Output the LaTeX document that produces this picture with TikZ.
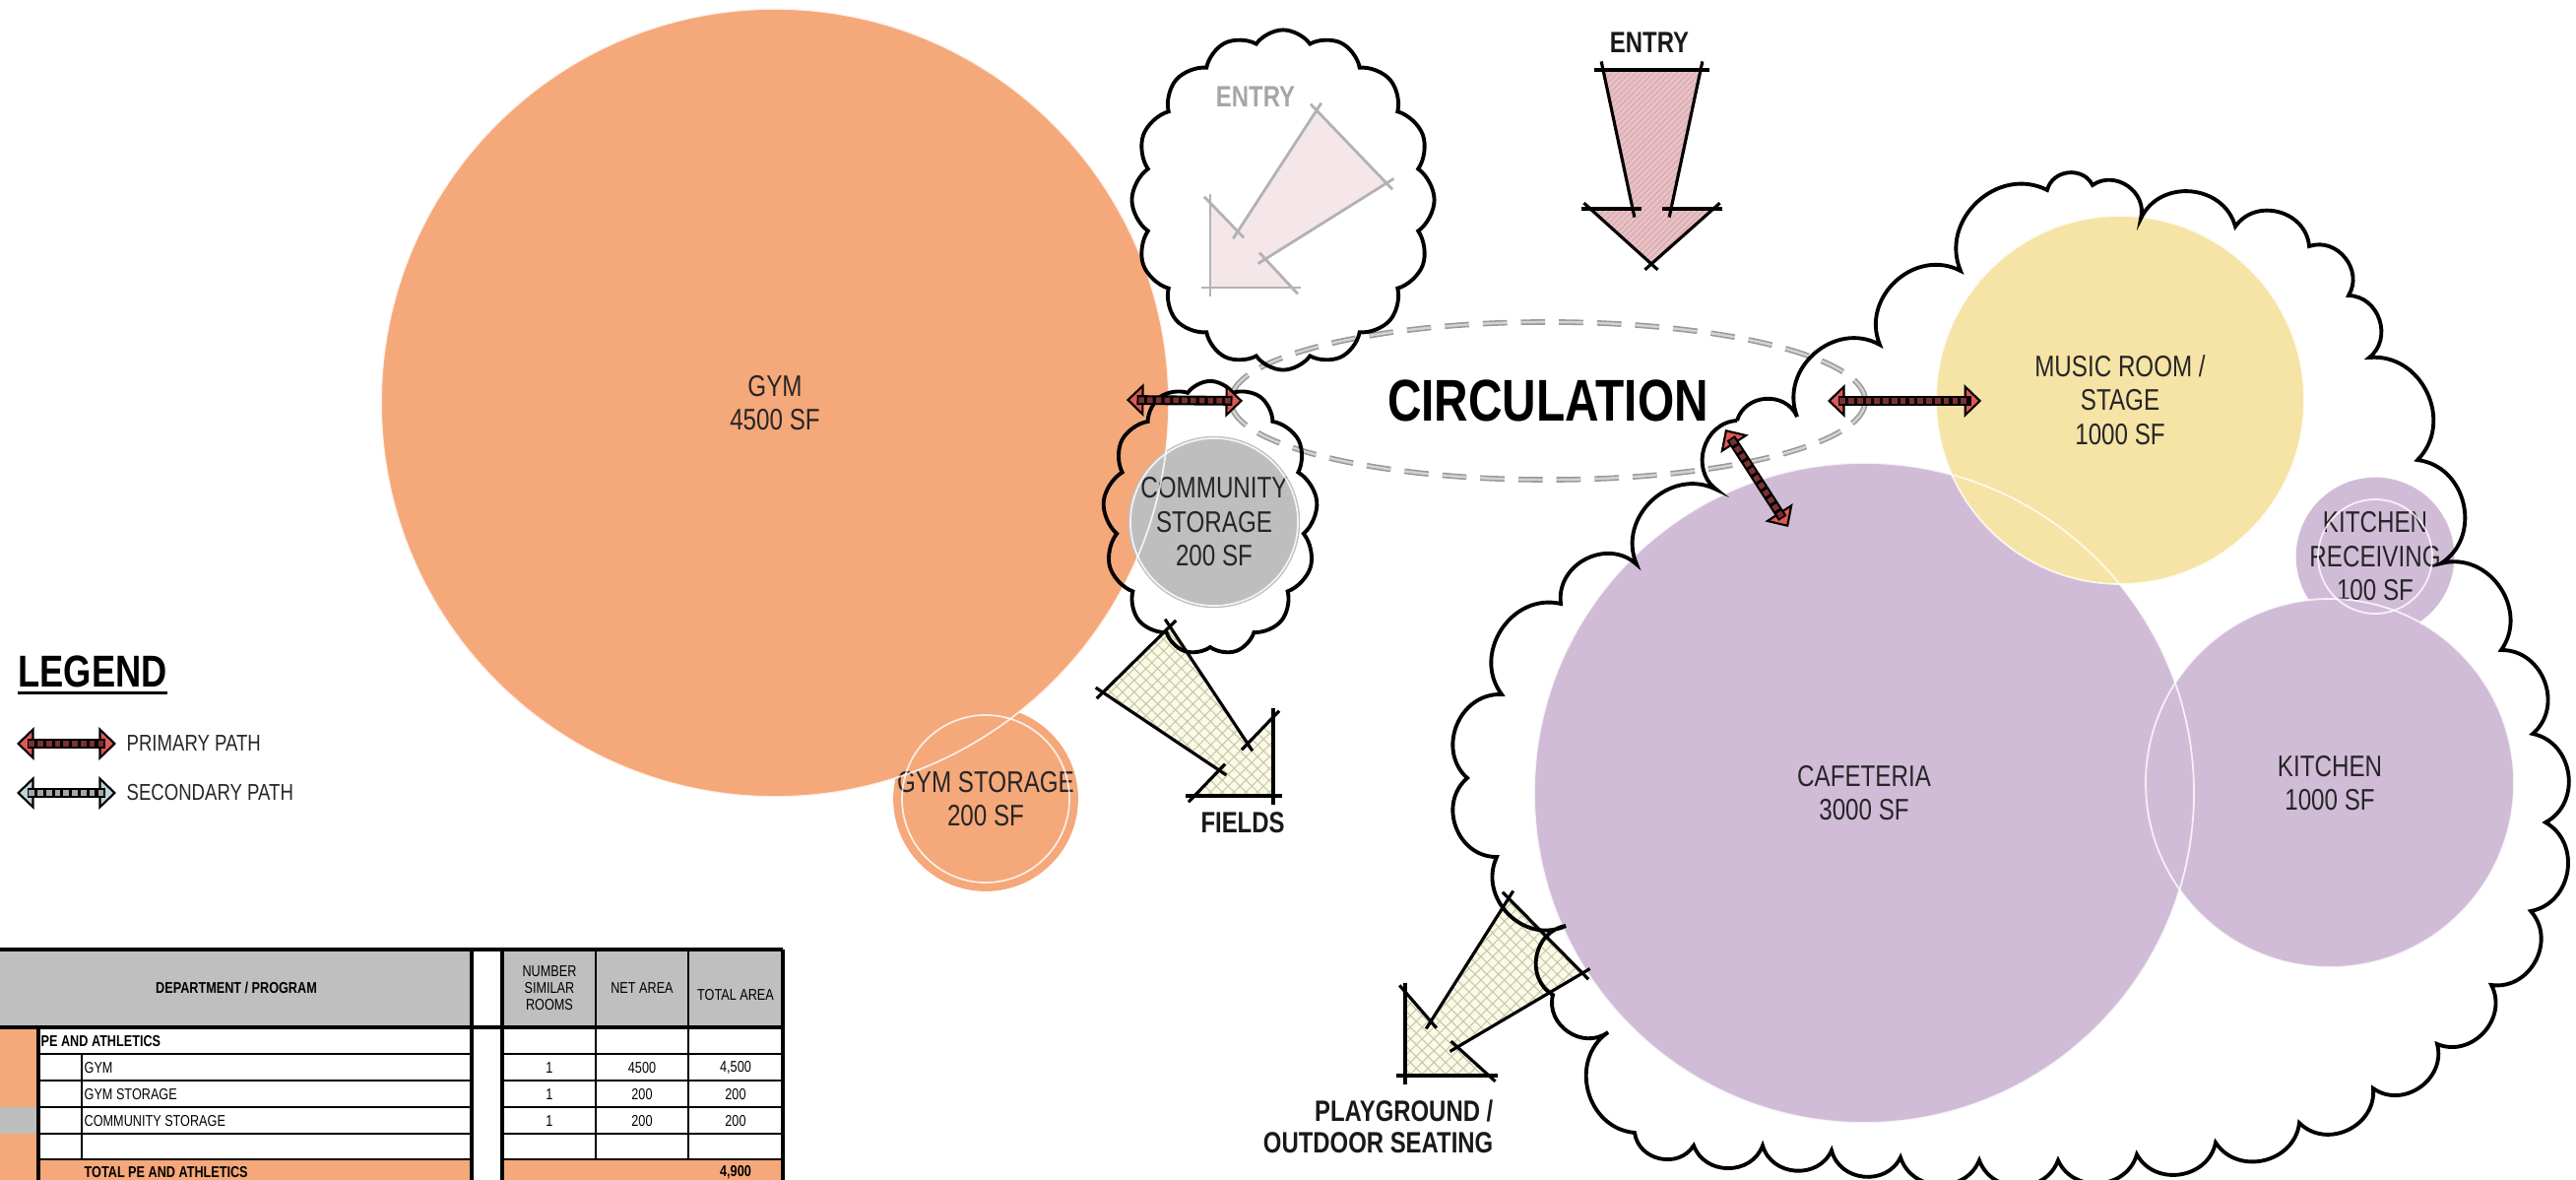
\documentclass[tikz,border=0pt]{standalone}
\usepackage{fontspec}
\setmainfont{Liberation Sans}[FakeStretch=0.8]
\usetikzlibrary{shapes.geometric,shapes.symbols,arrows.meta,calc,patterns.meta,positioning}

\definecolor{gymorange}{RGB}{245,168,122}
\definecolor{storegray}{RGB}{190,190,190}
\definecolor{cafepurple}{RGB}{209,188,216}
\definecolor{musicyellow}{RGB}{246,228,166}
\definecolor{entrypink}{RGB}{234,192,197}
\definecolor{fadepink}{RGB}{245,231,233}
\definecolor{fieldcream}{RGB}{251,249,232}
\definecolor{hatchgreen}{RGB}{200,200,165}
\definecolor{primred}{RGB}{222,88,88}
\definecolor{secblue}{RGB}{190,210,216}
\definecolor{headgray}{RGB}{191,191,191}

\newcommand{\roomfont}{\fontsize{8.6}{9.8}\selectfont}
\newcommand{\tagfont}{\bfseries\fontsize{8.5}{9.2}\selectfont}
\newcommand{\cellfont}{\fontsize{4.5}{4.9}\selectfont}

% double headed path arrow: tip colour, stripe colour, from, to
\newcommand{\pathlink}[4]{%
  \draw[line width=0.6pt, {Triangle[fill=#1,length=5pt,width=9.5pt]}-{Triangle[fill=#1,length=5pt,width=9.5pt]}] #3 -- #4;
  \draw[pathbody] #3 -- #4;
  \draw[pathdots, draw=#2] #3 -- #4;
}
% hand drawn arrow shape from the seven coordinates <prefix>1 ... <prefix>7
\newcommand{\sketcharrow}[3]{%
  \fill[#2] (#11) \foreach \n in {2,...,7} {-- (#1\n)} -- cycle;
  \foreach \n [evaluate=\n as \m using {int(mod(\n,7)+1)}] in {1,...,7} {\draw[#3] (#1\n) -- (#1\m);}
}

\begin{document}
\begin{tikzpicture}[x=0.01cm, y=-0.01cm]
    %
    % `room' is used for the programme circles.
    % `ring' gives them their thin light outline.
    % `puffline' is used for the cloud outlines.
    \tikzstyle{room} = [circle, inner sep=0pt, align=center, font=\roomfont, text=black!85]
    \tikzstyle{ring} = [draw=white, line width=0.5pt, opacity=0.8]
    \tikzstyle{puffline} = [draw=black, line width=1.1pt]
    \tikzstyle{tag} = [font=\tagfont, text=black!90, inner sep=0pt, align=center]
    \tikzstyle{sketchline} = [draw=black, line width=0.9pt, shorten <=-2.5pt, shorten >=-2.5pt]
    \tikzstyle{fadeline} = [draw=black!30, line width=0.8pt, shorten <=-2.5pt, shorten >=-2.5pt]
    \tikzstyle{entryfill} = [fill=entrypink, postaction={pattern={Lines[angle=45,distance=1.2pt,line width=0.2pt]}, pattern color=entrypink!85!black}]
    \tikzstyle{fadefill} = [fill=fadepink]
    \tikzstyle{fieldfill} = [fill=fieldcream, postaction={pattern={Hatch[angle=45,distance=2.4pt,line width=0.3pt]}, pattern color=hatchgreen}]
    \tikzstyle{pathbody} = [line width=2.8pt, draw=black, shorten <=3pt, shorten >=3pt]
    \tikzstyle{pathdots} = [line width=1.6pt, dash pattern=on 1.6pt off 0.9pt, shorten <=3.5pt, shorten >=3.5pt]
    \tikzstyle{circdash} = [ellipse, draw=gray!80, double=gray!35, double distance=0.7pt, line width=0.45pt, dash pattern=on 7pt off 4pt, inner sep=0pt, minimum width=6.44cm, minimum height=1.6cm, font=\bfseries\fontsize{17}{20}\selectfont]
    \tikzstyle{cell} = [font=\cellfont, inner sep=0pt, align=center]
    \tikzstyle{cellhead} = [font=\bfseries\cellfont, inner sep=0pt, align=center]
    \tikzstyle{thinrule} = [line width=0.35pt]
    \tikzstyle{thickrule} = [line width=1pt]
    %
    \path[use as bounding box] (0,0) rectangle (2616,1198);
    %
    % Programme table
    \fill[headgray] (-5,964) rectangle (479,1043) (510,964) rectangle (795,1043);
    \fill[gymorange] (-5,1043) rectangle (39,1124) (-5,1151) rectangle (39,1210)
        (39,1177) rectangle (479,1210) (510,1177) rectangle (795,1210);
    \fill[storegray] (-5,1124) rectangle (39,1151);
    \foreach \yy in {1070,1097,1124,1151,1177}
        \draw[thinrule] (39,\yy) -- (479,\yy) (510,\yy) -- (795,\yy);
    \draw[thinrule] (83,1070) -- (83,1177) (605,964) -- (605,1177) (699,964) -- (699,1177);
    \draw[thickrule] (-5,964) -- (795,964) (-5,1043) -- (795,1043) (39,1043) -- (39,1210)
        (479,964) -- (479,1210) (510,964) -- (510,1210) (795,964) -- (795,1210);
    \node[cellhead] (dept) at (240,1003) {DEPARTMENT / PROGRAM};
    \node[cell] (numhd) at (558,1003) {NUMBER\\SIMILAR\\ROOMS};
    \node[cell] (nethd) at (652,1003) {NET AREA};
    \node[cell] (tothd) at (747,1010) {TOTAL AREA};
    \node[cellhead, anchor=west] (pe) at (41,1057) {PE AND ATHLETICS};
    \foreach \nm/\net/\tot/\yy [count=\i] in {GYM/4500/{4,500}/1084, GYM STORAGE/200/200/1111, COMMUNITY STORAGE/200/200/1138} {
        \node[cell, anchor=west] (row\i) at (85,\yy) {\nm};
        \node[cell] (cnt\i) at (558,\yy) {1};
        \node[cell] (net\i) at (652,\yy) {\net};
        \node[cell] (tot\i) at (747,\yy) {\tot};
    }
    \node[cellhead, anchor=west] (petotal) at (85,1190) {TOTAL PE AND ATHLETICS};
    \node[cellhead] (pesum) at (747,1190) {4,900};
    %
    % Legend
    \node[font=\bfseries\fontsize{12.9}{14}\selectfont, inner sep=0pt] (legend) at (94,682) {LEGEND};
    \draw[line width=0.9pt] ($(legend.base west)+(0,6)$) -- ($(legend.base east)+(0,6)$);
    \node[font=\fontsize{6.6}{7}\selectfont, anchor=west, inner sep=0pt, text=black!85] (primlbl) at (128,755) {PRIMARY PATH};
    \node[font=\fontsize{6.6}{7}\selectfont, anchor=west, inner sep=0pt, text=black!85] (seclbl) at (128,805) {SECONDARY PATH};
    \pathlink{primred}{primred!55!black}{($(primlbl.west)+(-111,0)$)}{($(primlbl.west)+(-10,0)$)}
    \pathlink{secblue}{black!35}{($(seclbl.west)+(-111,0)$)}{($(seclbl.west)+(-10,0)$)}
    %
    % Rooms
    \node[room, fill=gymorange, minimum size=8cm] (gym) at (787,409) {GYM\\4500 SF};
    \node[room, fill=gymorange, minimum size=1.7cm] (gymstore) at (1001,811) {GYM STORAGE\\200 SF};
    \node[room, fill=storegray, minimum size=1.7cm] (commstore) at (1233,530) {COMMUNITY\\STORAGE\\200 SF};
    \node[room, fill=cafepurple, minimum size=6.7cm] (cafe) at (1893,805) {CAFETERIA\\3000 SF};
    \node[room, fill=cafepurple, minimum size=3.74cm] (kitchen) at (2366,795) {KITCHEN\\1000 SF};
    \node[room, fill=cafepurple, minimum size=1.16cm] (receiving) at (2412,565) {KITCHEN\\RECEIVING\\100 SF};
    \node[room, fill=musicyellow, minimum size=3.74cm] (music) at (2153,406) {MUSIC ROOM /\\STAGE\\1000 SF};
    \foreach \rm/\rr in {gym/400, gymstore/85, commstore/85, cafe/335, kitchen/187, receiving/58, music/187}
        \draw[ring] (\rm.center) circle[radius=\rr];
    %
    % Circulation
    \node[circdash] (circ) at (1572,407) {CIRCULATION};
    %
    % Entry, fields and playground arrows
    \foreach \n/\x/\y in {1/1628/71, 2/1727/71, 3/1697/212, 4/1740/212, 5/1677/268, 6/1615/212, 7/1658/212}
        \coordinate (en\n) at (\x,\y);
    \foreach \n/\x/\y in {1/1337/112, 2/1408/186, 3/1285/263, 4/1312/292, 5/1229/292, 6/1229/206, 7/1257/235}
        \coordinate (fe\n) at (\x,\y);
    \foreach \n/\x/\y in {1/1188/636, 2/1267/755, 3/1293/728, 4/1293/808, 5/1213/808, 6/1238/782, 7/1120/703}
        \coordinate (fd\n) at (\x,\y);
    \foreach \n/\x/\y in {1/1532/912, 2/1607/988, 3/1480/1063, 4/1512/1092, 5/1427/1092, 6/1427/1007, 7/1453/1037}
        \coordinate (pg\n) at (\x,\y);
    \sketcharrow{en}{entryfill}{sketchline}
    \sketcharrow{fe}{fadefill}{fadeline}
    \sketcharrow{fd}{fieldfill}{sketchline}
    \sketcharrow{pg}{fieldfill}{sketchline}
    \node[tag] (entry) at (1675,43) {ENTRY};
    \node[tag, text=black!35] (oldentry) at (1275,98) {ENTRY};
    \node[tag] (fields) at (1262,835) {FIELDS};
    \node[tag, align=right, anchor=east] (play) at (1517,1144) {PLAYGROUND /\\OUTDOOR SEATING};
    %
    % Clouds
    \node[cloud, cloud puffs=16, cloud puff arc=110, aspect=1, puffline, minimum width=3.07cm, minimum height=3.45cm, inner sep=0pt] (entrycloud) at (1303,203) {};
    \node[cloud, cloud puffs=13, cloud puff arc=110, aspect=1, puffline, minimum width=2.18cm, minimum height=2.78cm, inner sep=0pt] (commcloud) at (1229,526) {};
    \draw[puffline] (1764,427) \foreach \x/\y in {1825/423, 1909/350, 1991/275, 2079/193, 2125/188, 2174/222,
        2270/230, 2345/250, 2385/300, 2406/363, 2455/467, 2479/572, 2540/660, 2572/745, 2585/835,
        2570/925, 2530/1000, 2475/1060, 2410/1105, 2335/1140, 2250/1160, 2170/1172, 2090/1178,
        2010/1178, 1930/1175, 1860/1168, 1790/1163, 1720/1163, 1660/1150, 1633/1048, 1577/1010,
        1590/940, 1520/870, 1490/790, 1525/705, 1585/613, 1662/573, 1743/497, 1764/427}
        { to[bend left=70, looseness=1.2] (\x,\y) };
    %
    % Primary paths
    \pathlink{primred}{primred!55!black}{($(gym.east)+(-44,-3)$)}{($(circ.west)+(13,0)$)}
    \pathlink{primred}{primred!55!black}{($(circ.east)+(-39,0)$)}{($(music.west)+(47,1)$)}
    \pathlink{primred}{primred!55!black}{($(circ.center)+(180,29)$)}{($(cafe.center)+(-77,-270)$)}
    %
\end{tikzpicture}
\end{document}
